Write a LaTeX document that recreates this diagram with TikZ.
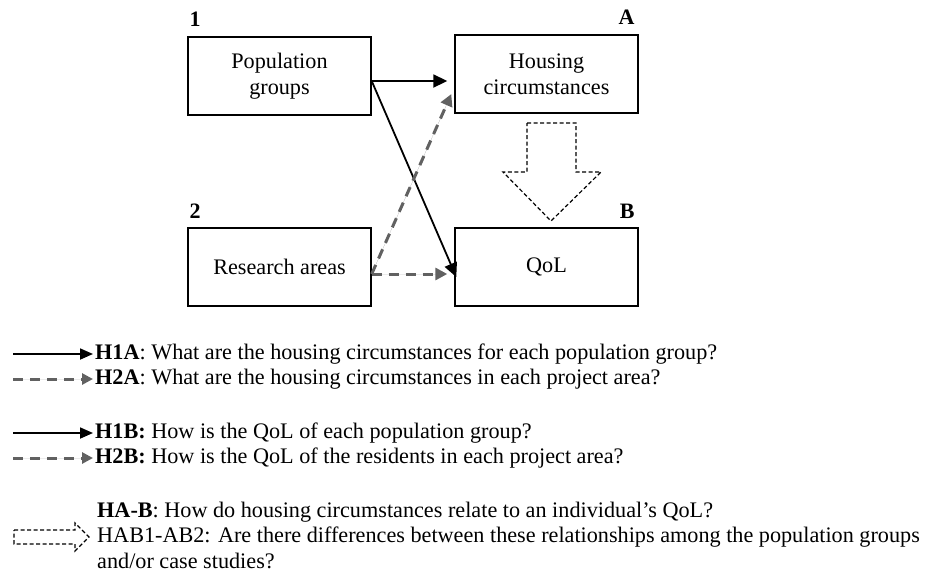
\documentclass[tikz,border=0pt]{standalone}
\usepackage{fontspec}
\setmainfont{Liberation Serif}
\usetikzlibrary{arrows.meta,positioning}
\begin{document}
\begin{tikzpicture}[x=1pt, y=-1pt, font=\fontsize{22.2}{26}\selectfont, line join=miter, >={Triangle[length=14pt,width=13pt]},
	box/.style={draw, line width=1.4pt, minimum width=183pt, minimum height=78pt, align=center, inner sep=0pt},
	tag/.style={font=\fontsize{22}{26}\selectfont\bfseries, inner sep=0pt},
	solidarr/.style={->, line width=1.8pt},
	greyarr/.style={-{Triangle[length=12pt,width=12pt]}, draw=black!62, fill=black!62, line width=3pt, dash pattern=on 10pt off 7pt},
	blockarr/.style={draw, line width=1.2pt, dash pattern=on 4pt off 2.5pt},
	legtext/.style={anchor=west, inner sep=0pt}]
	\useasboundingbox (0,0) rectangle (936,587);
	% the four boxes
	\node[box] (pop) at (279.5,76) {Population\\groups};
	\node[box] (house) at (546.5,74) {Housing\\circumstances};
	\node[box] (res) at (279.5,267) {Research areas};
	\node[box] (qol) at (546.5,267) {QoL};
	\node[tag, anchor=south west] at ([xshift=2pt,yshift=10pt]pop.north west) {1};
	\node[tag, anchor=south east] at ([xshift=-4pt,yshift=10pt]house.north east) {A};
	\node[tag, anchor=south west] at ([xshift=2pt,yshift=9pt]res.north west) {2};
	\node[tag, anchor=south east] at ([xshift=-4pt,yshift=9pt]qol.north east) {B};
	% hypotheses
	\draw[solidarr] ([yshift=-5pt]pop.east) -- ([yshift=-5pt,xshift=-7pt]pop.east -| house.west);
	\draw[solidarr] ([yshift=-5pt]pop.east) -- ([yshift=-10pt,xshift=2pt]qol.west);
	\draw[greyarr] ([yshift=-7pt]res.east) -- ([yshift=-20pt,xshift=-3pt]house.west);
	\draw[greyarr] ([yshift=-7pt]res.east) -- ([yshift=-7pt,xshift=-7pt]res.east -| qol.west);
	\draw[blockarr] (527,123) -- (576,123) -- (576,172) -- (601,172) -- (551,221) -- (503,172) -- (527,172) -- cycle;
	% legend
	\node[legtext] (h1a) at (95,354) {\textbf{H1A}: What are the housing circumstances for each population group?};
	\node[legtext] (h2a) at (95,379) {\textbf{H2A}: What are the housing circumstances in each project area?};
	\node[legtext] (h1b) at (95,433) {\textbf{H1B:} How is the QoL of each population group?};
	\node[legtext] (h2b) at (95,458) {\textbf{H2B:} How is the QoL of the residents in each project area?};
	\node[legtext] (hab) at (97,512) {\textbf{HA-B}: How do housing circumstances relate to an individual’s QoL?};
	\node[legtext] (hab1) at (97,537) {HAB1-AB2: Are there differences between these relationships among the population groups};
	\node[legtext] (habc) at (97,561) {and/or case studies?};
	\coordinate (s1a) at (13,354);
	\coordinate (s2a) at (13,379);
	\coordinate (s1b) at (13,433);
	\coordinate (s2b) at (13,458);
	\draw[solidarr, -{Triangle[length=13pt,width=11pt]}] (s1a) -- ([xshift=-2pt]h1a.west);
	\draw[greyarr, -{Triangle[length=11pt,width=11pt]}] (s2a) -- ([xshift=-2pt]h2a.west);
	\draw[solidarr, -{Triangle[length=13pt,width=11pt]}] (s1b) -- ([xshift=-2pt]h1b.west);
	\draw[greyarr, -{Triangle[length=11pt,width=11pt]}] (s2b) -- ([xshift=-2pt]h2b.west);
	\draw[blockarr] (14,530) -- (75,530) -- (75,523) -- ([xshift=-8pt]hab1.west) -- (75,551) -- (75,544) -- (14,544) -- cycle;
\end{tikzpicture}
\end{document}
